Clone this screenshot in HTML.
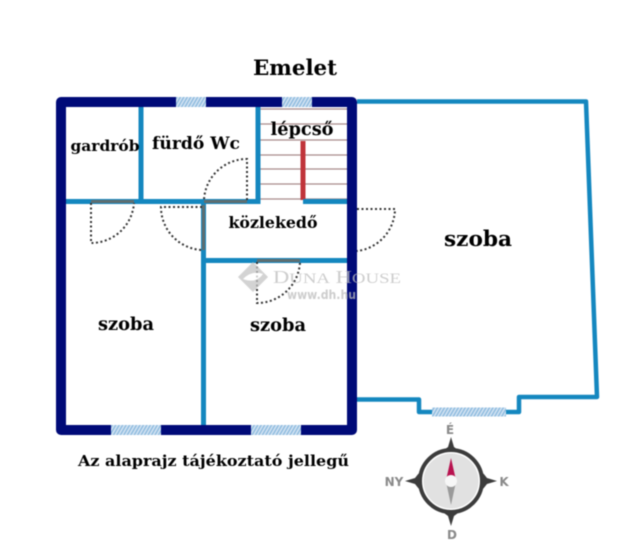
<!DOCTYPE html>
<html><head><meta charset="utf-8"><style>
html,body{margin:0;padding:0;background:#fff;width:640px;height:560px;overflow:hidden}
svg{display:block;filter:blur(0.4px)}
text{font-family:"DejaVu Serif","Liberation Serif",serif;font-weight:bold;fill:#000}
.s{font-family:"DejaVu Sans","Liberation Sans",sans-serif;fill:#8a8a8a}
</style></head><body>
<svg width="640" height="560" viewBox="0 0 640 560" xmlns="http://www.w3.org/2000/svg">
<defs><pattern id="h" width="3" height="3" patternUnits="userSpaceOnUse" patternTransform="rotate(30)"><rect width="3" height="3" fill="#d5e4f2"/><rect width="1.5" height="3" fill="#8fbce0"/></pattern></defs>

<!-- stairs -->
<g stroke="#a88c8c" stroke-width="1.2">
<path d="M260 109H348M260 124H348M260 140H348M260 155H348M260 169H348M260 184H348M260 199H348"/>
</g>
<rect x="300.500" y="141" width="5" height="59" fill="#c0343a"/>

<!-- right room -->
<path d="M357 101.500H586L597 397H519V412H419V399.500H357" fill="none" stroke="#1487bf" stroke-width="4.500" stroke-linejoin="round"/>
<rect x="432" y="407.500" width="74" height="9" fill="url(#h)"/>

<!-- inner walls -->
<g fill="none" stroke="#1487bf" stroke-width="5">
<path d="M66 201.500H258V107M141 107V201"/>
<path d="M303 201.500H348"/>
<path d="M203.500 201V425"/>
<path d="M203 260.500H348"/>
</g>

<!-- door leaves -->
<g stroke="#5f6e70" stroke-width="3" fill="none">
<path d="M91 201.500H134"/>
<path d="M204 201.500H247"/>
<path d="M203.500 205V250"/>
<path d="M257 260.500H300"/>
</g>
<rect x="352" y="208" width="5" height="44" fill="#a9a5b5"/>

<!-- door swings -->
<g fill="none" stroke="#333" stroke-width="2" stroke-dasharray="2 2.500">
<path d="M91 203V243A43 43 0 0 0 134 203"/>
<path d="M247 200V159A43 43 0 0 0 204 200"/>
<path d="M202 207H161A43 43 0 0 0 202 250"/>
<path d="M357 209H395A43 43 0 0 1 357 251"/>
<path d="M257 262V303A43 43 0 0 0 300 262"/>
</g>

<!-- outer wall -->
<rect x="61" y="102" width="291" height="328" fill="none" stroke="#000a78" stroke-width="10" stroke-linejoin="round"/>
<g fill="url(#h)">
<rect x="176" y="97" width="30" height="10"/>
<rect x="282" y="97" width="30" height="10"/>
<rect x="111" y="425" width="50" height="10"/>
<rect x="251" y="425" width="50" height="10"/>
</g>

<!-- watermark -->
<g opacity="0.75">
<path d="M253 262L268 277L253 292L238 277Z" fill="#c4c4c4"/>
<path d="M243 279Q252 270 263 274Q256 284 243 279Z" fill="#fff"/>
<text x="273" y="283" font-size="18" style="font-family:'Liberation Serif',serif;font-weight:normal;fill:#bdbdbd" textLength="128" lengthAdjust="spacingAndGlyphs">D<tspan font-size="15">UNA</tspan> H<tspan font-size="15">OUSE</tspan></text>
<text x="287" y="299" class="s" font-size="12" style="fill:#bdbdbd;font-weight:bold" textLength="69" lengthAdjust="spacingAndGlyphs">www.dh.hu</text>
</g>

<!-- labels -->
<text x="295" y="75" font-size="21.500" text-anchor="middle" textLength="84" lengthAdjust="spacingAndGlyphs">Emelet</text>
<text x="105" y="151" font-size="15" text-anchor="middle" textLength="69" lengthAdjust="spacingAndGlyphs">gardrób</text>
<text x="196" y="149" font-size="17" text-anchor="middle" textLength="88" lengthAdjust="spacingAndGlyphs">fürdő Wc</text>
<text x="302" y="135" font-size="17.500" text-anchor="middle" textLength="63" lengthAdjust="spacingAndGlyphs">lépcső</text>
<text x="273" y="228" font-size="16" text-anchor="middle" textLength="89" lengthAdjust="spacingAndGlyphs">közlekedő</text>
<text x="478" y="246" font-size="21.500" text-anchor="middle" textLength="68" lengthAdjust="spacingAndGlyphs">szoba</text>
<text x="126" y="330" font-size="17.500" text-anchor="middle" textLength="56" lengthAdjust="spacingAndGlyphs">szoba</text>
<text x="278" y="331" font-size="17.500" text-anchor="middle" textLength="56" lengthAdjust="spacingAndGlyphs">szoba</text>
<text x="78" y="466" font-size="15" textLength="271" lengthAdjust="spacingAndGlyphs">Az alaprajz tájékoztató jellegű</text>

<!-- compass -->
<path d="M451 437L454 447Q458 450 461 452L451 458L441 452Q444 450 448 447ZM451 526L448 516Q444 513 441 511L451 505L461 511Q458 513 454 516ZM405 481L415 478Q418 474 421 471L427 481L421 491Q418 488 415 484ZM497 481L487 484Q484 488 481 491L475 481L481 471Q484 474 487 478Z" fill="#3c3c3c"/>
<circle cx="451" cy="481" r="31" fill="#fff" stroke="#3c3c3c" stroke-width="4"/>
<circle cx="451" cy="481" r="27.500" fill="#e1e1e1"/>
<path d="M451 458L446.500 478H455.500Z" fill="#b8124f"/>
<path d="M451 505L446.500 484H455.500Z" fill="#9a9a9a"/>
<circle cx="451" cy="481" r="6" fill="#f7f7f7"/>
<text x="450" y="434" class="s" font-size="12" text-anchor="middle" style="font-weight:bold">É</text>
<text x="394" y="486" class="s" font-size="12" text-anchor="middle" style="font-weight:bold">NY</text>
<text x="504" y="486" class="s" font-size="12" text-anchor="middle" style="font-weight:bold">K</text>
<text x="452" y="539" class="s" font-size="12" text-anchor="middle" style="font-weight:bold">D</text>
</svg>
</body></html>
